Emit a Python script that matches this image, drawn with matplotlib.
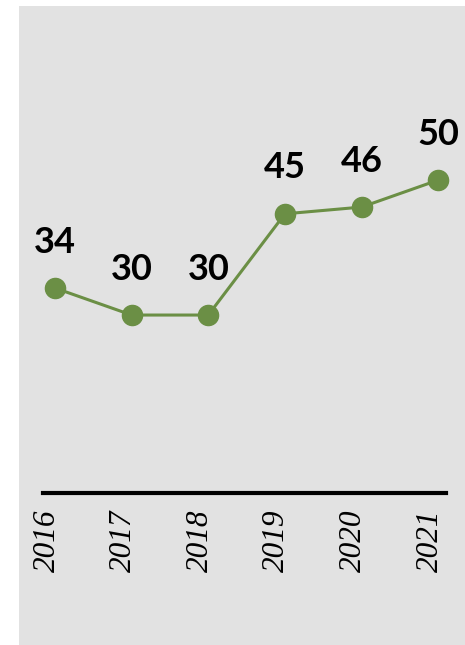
import matplotlib
matplotlib.use('Agg')
import matplotlib.pyplot as plt
from matplotlib.transforms import ScaledTranslation

years = ['2016', '2017', '2018', '2019', '2020', '2021']
values = [34, 30, 30, 45, 46, 50]

green = '#6b8f45'
panel = '#e2e2e2'

fig = plt.figure(figsize=(4.65, 6.45), dpi=100)
fig.patch.set_facecolor('white')
ax = fig.add_axes([19/465, 0, 446/465, 639/645])
ax.set_facecolor(panel)

xs = list(range(len(years)))
ax.plot(xs, values, color=green, lw=2.2, marker='o', ms=14.5, zorder=3)

for x, v in zip(xs, values):
    ax.annotate(str(v), (x, v), xytext=(0, 33), textcoords='offset points',
                ha='center', va='center', fontsize=26, fontweight='bold',
                family='Lato', color='black', clip_on=False)

ax.set_xlim(-0.47, 5.35)
ax.set_ylim(-18.9, 75.8)

for s in ['top', 'left', 'right']:
    ax.spines[s].set_visible(False)
ax.spines['bottom'].set_position(('data', 3.6))
ax.spines['bottom'].set_bounds(-0.157, 5.10)
ax.spines['bottom'].set_linewidth(3)
ax.set_yticks([])
ax.set_xticks(xs)
ax.set_xticklabels(years, rotation=90, fontsize=22.5, family='Liberation Serif',
                   style='italic')
ax.tick_params(axis='x', length=0, pad=12)
shift = ScaledTranslation(-8/100, 0, fig.dpi_scale_trans)
for lab in ax.get_xticklabels():
    lab.set_transform(lab.get_transform() + shift)

fig.savefig('out.png', dpi=100, facecolor='white')
